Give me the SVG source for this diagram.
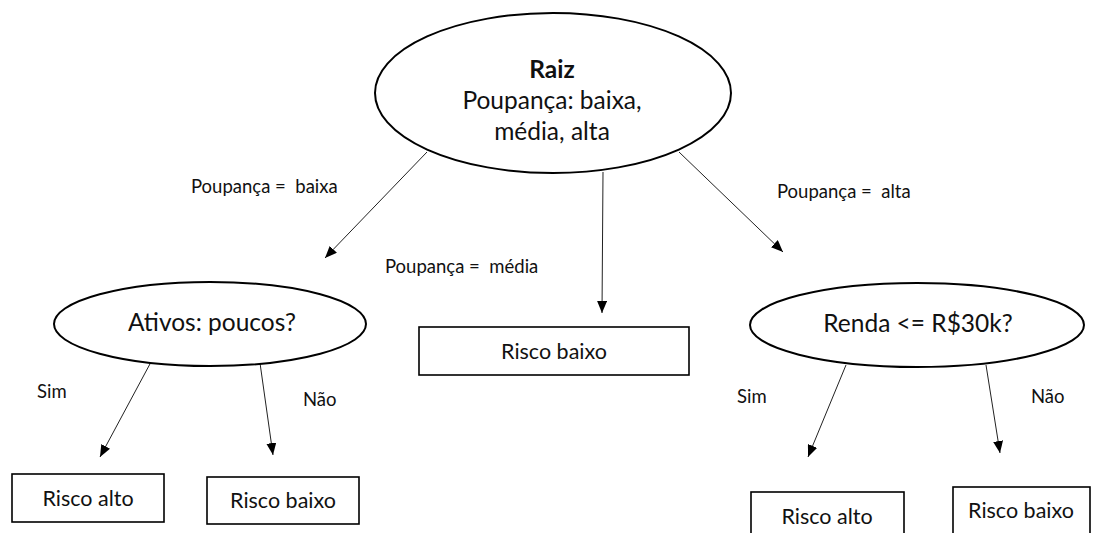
<svg xmlns="http://www.w3.org/2000/svg" width="1096" height="533" viewBox="0 0 1096 533">
<style>
text{font-family:"Lato","Open Sans","Liberation Sans",sans-serif;fill:#111;white-space:pre}
.n{fill:#fff;stroke:#000;stroke-width:2}
.b{fill:#fff;stroke:#000;stroke-width:1.6}
.big{font-size:24.5px}
.mid{font-size:21.5px}
.lbl{font-size:18.5px}
.c line{stroke:#222;stroke-width:1}
</style>
<defs>
<marker id="ah" viewBox="0 0 12 10" refX="12" refY="5" markerWidth="12" markerHeight="10" markerUnits="userSpaceOnUse" orient="auto">
<path d="M0,0 L12,5 L0,10 z" fill="#000"/>
</marker>
</defs>
<rect width="1096" height="533" fill="#fff"/>
<g class="c">
<line x1="427" y1="152" x2="325" y2="258" marker-end="url(#ah)"/>
<line x1="603" y1="172" x2="602" y2="313" marker-end="url(#ah)"/>
<line x1="679" y1="152" x2="783" y2="252" marker-end="url(#ah)"/>
<line x1="151" y1="362" x2="100" y2="457" marker-end="url(#ah)"/>
<line x1="260" y1="363" x2="273" y2="455" marker-end="url(#ah)"/>
<line x1="846" y1="365" x2="808" y2="457" marker-end="url(#ah)"/>
<line x1="986" y1="365" x2="1000" y2="453" marker-end="url(#ah)"/>
</g>
<g id="labels">
<text class="lbl" x="191" y="193" xml:space="preserve">Poupança =  baixa</text>
<text class="lbl" x="385" y="273" xml:space="preserve">Poupança =  média</text>
<text class="lbl" x="777" y="198" xml:space="preserve">Poupança =  alta</text>
<text class="lbl" x="37" y="398">Sim</text>
<text class="lbl" x="303" y="406">Não</text>
<text class="lbl" x="737" y="403">Sim</text>
<text class="lbl" x="1031" y="403">Não</text>
</g>
<g id="root">
<ellipse class="n" cx="553" cy="93" rx="178" ry="80"/>
<text class="big" x="552" y="78" text-anchor="middle" font-weight="bold">Raiz</text>
<text class="big" x="552" y="109" text-anchor="middle">Poupança: baixa,</text>
<text class="big" x="552" y="140" text-anchor="middle">média, alta</text>
</g>
<g id="ativos">
<ellipse class="n" cx="210" cy="324" rx="156" ry="42"/>
<text class="big" x="212" y="331" text-anchor="middle">Ativos: poucos?</text>
</g>
<g id="renda">
<ellipse class="n" cx="917" cy="325" rx="167" ry="42"/>
<text class="big" x="918" y="332" text-anchor="middle">Renda &lt;= R$30k?</text>
</g>
<g id="risco-baixo-mid">
<rect class="b" x="419" y="327" width="270" height="48"/>
<text class="mid" x="554" y="359" text-anchor="middle">Risco baixo</text>
</g>
<g id="risco-alto-left">
<rect class="b" x="12" y="474" width="152" height="48"/>
<text class="mid" x="88" y="506" text-anchor="middle">Risco alto</text>
</g>
<g id="risco-baixo-left">
<rect class="b" x="207" y="477" width="152" height="47"/>
<text class="mid" x="283" y="508" text-anchor="middle">Risco baixo</text>
</g>
<g id="risco-alto-right">
<rect class="b" x="751" y="492" width="153" height="50"/>
<text class="mid" x="827" y="524" text-anchor="middle">Risco alto</text>
</g>
<g id="risco-baixo-right">
<rect class="b" x="953" y="487" width="137" height="55"/>
<text class="mid" x="1021" y="518" text-anchor="middle">Risco baixo</text>
</g>
</svg>
